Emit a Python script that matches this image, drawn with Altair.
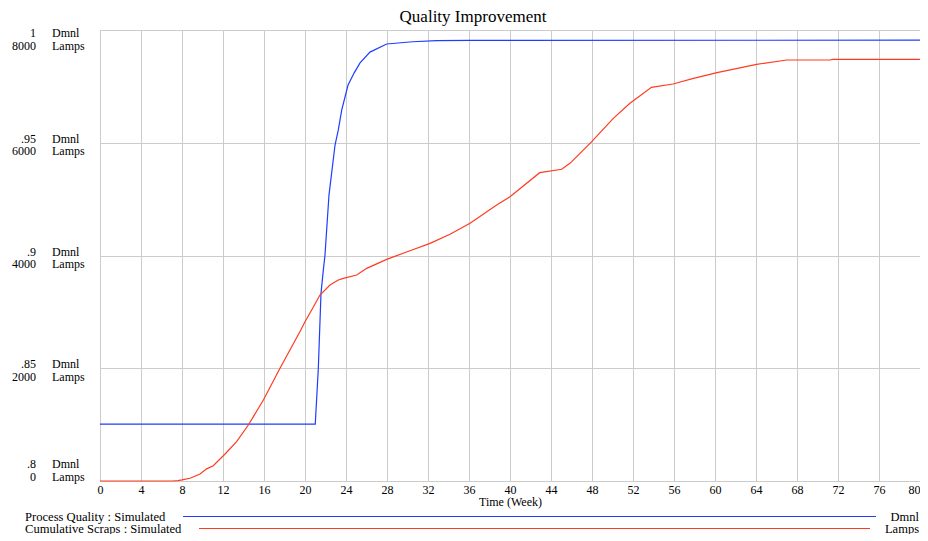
import altair as alt
import pandas as pd

# ---- data ----
weeks_q = [0, 21.0, 21.3, 21.56, 21.79, 21.95, 22.34, 22.93, 23.25, 23.58, 24.2, 24.8,
           25.37, 26.34, 27.97, 30.5, 32.85, 36.1, 80]
quality = [0.8252, 0.8252, 0.85, 0.8832, 0.8936, 0.9002, 0.9268, 0.949, 0.9557, 0.9645,
           0.9756, 0.981, 0.9854, 0.9902, 0.9938, 0.9948, 0.9953, 0.9954, 0.9955]

weeks_s = [0, 7.1, 7.6, 8.0, 8.78, 9.76, 10.4, 11.05, 12.2, 13.33, 14.47, 15.94, 17.56,
           19.5, 20.0, 20.65, 21.46, 22.44, 23.25, 23.74, 25.04, 26.02, 27.97, 30.24,
           32.2, 34.15, 36.1, 38.7, 40.0, 42.9, 45.04, 45.85, 47.97, 50.08, 51.7, 53.8,
           55.9, 57.9, 60.2, 64.06, 67.0, 71.2, 71.5, 80]
scraps = [0, 0, 8, 20, 48, 124, 215, 270, 479, 697, 993, 1437, 1999, 2648, 2826, 3033,
          3299, 3477, 3565, 3595, 3654, 3772, 3932, 4085, 4216, 4376, 4571, 4896, 5043,
          5469, 5529, 5635, 6019, 6433, 6700, 6983, 7042, 7143, 7243, 7391, 7468, 7468,
          7480, 7480]

x_ticks = list(range(0, 81, 4))
lamp_ticks = [8000, 6000, 4000, 2000, 0]
dmnl_labels = ["1", ".95", ".9", ".85", ".8"]
lamp_labels = ["8000", "6000", "4000", "2000", "0"]
legend_labels = ["Process Quality : Simulated", "Cumulative Scraps : Simulated"]
legend_units = ["Dmnl", "Lamps"]

FONT = "Liberation Serif"
BLUE = "#1f3cff"
RED = "#ff3b1f"
GRID = "#cccccc"

q_df = pd.DataFrame({"week": weeks_q, "quality": quality})
s_df = pd.DataFrame({"week": weeks_s, "scraps": scraps})
lab_df = pd.DataFrame({
    "lamps": lamp_ticks,
    "num": [f"{a}\n{b}" for a, b in zip(dmnl_labels, lamp_labels)],
    "unit": ["Dmnl\nLamps"] * len(lamp_ticks),
})

xscale = alt.Scale(domain=[0, 80], nice=False, zero=False)
lamp_scale = alt.Scale(domain=[0, 8000], nice=False, zero=False)
x_axis = alt.Axis(values=x_ticks, grid=True, gridColor=GRID, gridWidth=1, ticks=False,
                  domain=False, labelFont=FONT, labelFontSize=12, labelPadding=3,
                  labelColor="black", labelFlush=False, labelOverlap=False,
                  labelAlign=alt.condition("datum.value >= 80", alt.value("right"),
                                           alt.value("center")),
                  title="Time (Week)", titleFont=FONT, titleFontSize=12,
                  titleFontWeight="normal", titleColor="black", titlePadding=1)

red_line = alt.Chart(s_df).mark_line(color=RED, strokeWidth=1.2).encode(
    x=alt.X("week:Q", scale=xscale, axis=x_axis),
    y=alt.Y("scraps:Q", scale=lamp_scale,
            axis=alt.Axis(values=lamp_ticks, grid=True, gridColor=GRID, labels=False,
                          ticks=False, domain=False, title=None)),
)

blue_line = alt.Chart(q_df).mark_line(color=BLUE, strokeWidth=1.2).encode(
    x=alt.X("week:Q", scale=xscale, axis=x_axis),
    y=alt.Y("quality:Q", scale=alt.Scale(domain=[0.8, 1.0], nice=False, zero=False),
            axis=None),
)


def label_layer(sub, field, xpos, align, dy):
    return alt.Chart(sub).mark_text(
        align=align, baseline="middle", lineBreak="\n", lineHeight=12.5, dy=dy,
        font=FONT, fontSize=12, color="black",
    ).encode(
        y=alt.Y("lamps:Q", scale=lamp_scale, axis=None),
        x=alt.value(xpos),
        text=alt.Text(f"{field}:N"),
    )


label_layers = []
for sub, dy in [(lab_df[lab_df.lamps == 8000], 3),
                (lab_df[(lab_df.lamps > 0) & (lab_df.lamps < 8000)], -4),
                (lab_df[lab_df.lamps == 0], -17)]:
    label_layers.append(label_layer(sub, "num", -64, "right", dy))
    label_layers.append(label_layer(sub, "unit", -48, "left", dy))

legend_layers = []
for lab, unit, col, ypos, x1, x2 in [
        (legend_labels[0], legend_units[0], BLUE, 486.5, 83, 776),
        (legend_labels[1], legend_units[1], RED, 498.5, 99, 770)]:
    d = pd.DataFrame({"label": [lab], "unit": [unit]})
    legend_layers.append(alt.Chart(d).mark_text(
        align="left", baseline="middle", font=FONT, fontSize=12.6, color="black"
    ).encode(x=alt.value(-75), y=alt.value(ypos), text="label:N"))
    legend_layers.append(alt.Chart(d).mark_text(
        align="right", baseline="middle", font=FONT, fontSize=12.5, color="black"
    ).encode(x=alt.value(819), y=alt.value(ypos), text="unit:N"))
    legend_layers.append(alt.Chart(d).mark_rule(color=col, strokeWidth=1.2).encode(
        x=alt.value(x1), x2=alt.value(x2), y=alt.value(ypos)))

chart = alt.layer(blue_line, red_line, *label_layers, *legend_layers).resolve_scale(
    y="independent"
).properties(
    width=820, height=451,
    title=alt.TitleParams("Quality Improvement", font=FONT, fontSize=17,
                          fontWeight="normal", anchor="middle", dx=-37, offset=1,
                          frame="group", color="black"),
    autosize=alt.AutoSizeParams(type="none"),
    padding={"left": 92, "top": 22, "right": 0, "bottom": 53},
).configure_view(stroke="black", strokeWidth=2).configure(background="white")

chart.save("out.html", embed_options={"renderer": "svg", "actions": False})
